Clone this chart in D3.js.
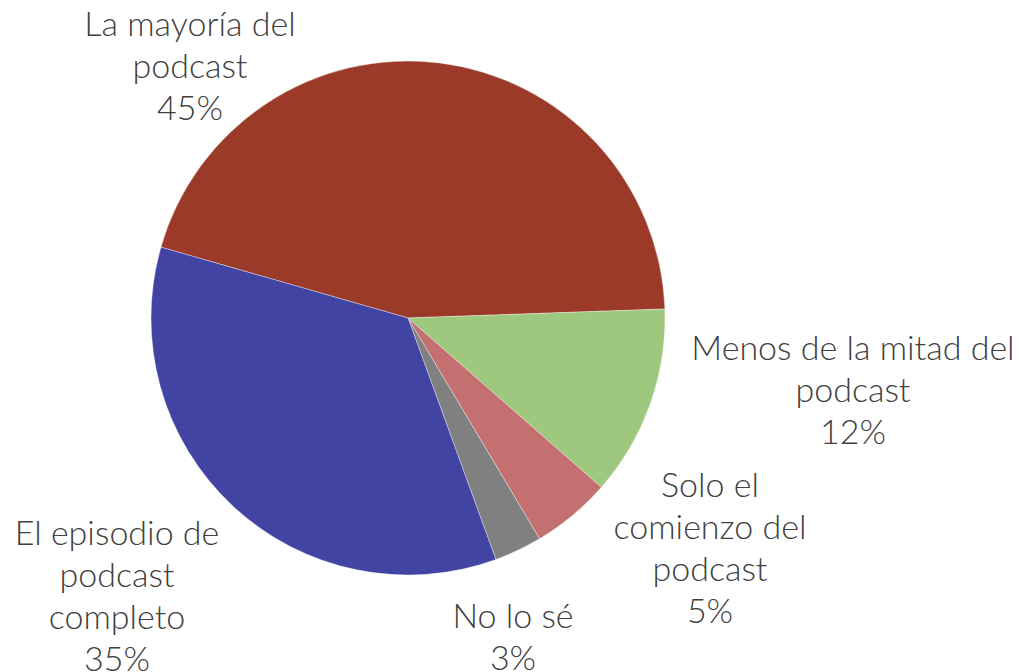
<!DOCTYPE html>
<html>
<head>
<meta charset="utf-8">
<script src="https://cdn.jsdelivr.net/npm/d3@7"></script>
<style>
  html, body { margin: 0; padding: 0; background: #fff; }
  svg { display: block; }
</style>
</head>
<body>
<svg id="chart" width="1019" height="672"></svg>
<script>
// Slices in drawing order (clockwise)
const categories = ["La mayoría del podcast", "Menos de la mitad del podcast", "Solo el comienzo del podcast", "No lo sé", "El episodio de podcast completo"];
const values = [45, 12, 5, 3, 35];
const colors = ["#9B3A29", "#9DC87E", "#C47070", "#808080", "#4244A4"];
// Label text broken into lines
const labelLines = [
  ["La mayoría del", "podcast"],
  ["Menos de la mitad del", "podcast"],
  ["Solo el", "comienzo del", "podcast"],
  ["No lo sé"],
  ["El episodio de", "podcast", "completo"]
];

const svg = d3.select("#chart");
const cx = 408, cy = 318, radius = 257;
const startDeg = -74;

const pie = d3.pie()
  .value(d => d)
  .sort(null)
  .startAngle(startDeg * Math.PI / 180)
  .endAngle((startDeg + 360) * Math.PI / 180);

const arc = d3.arc().innerRadius(0).outerRadius(radius);

const g = svg.append("g").attr("transform", `translate(${cx},${cy})`);
const arcs = pie(values);

g.selectAll("path")
  .data(arcs)
  .join("path")
  .attr("d", arc)
  .attr("fill", (d, i) => colors[i])
  .attr("stroke", "rgba(255,255,255,0.45)")
  .attr("stroke-width", 0.8);

// Label anchor positions (centre x, first baseline y)
const labelPos = [
  [190, 36],
  [853, 360],
  [710, 497],
  [513, 628],
  [117, 545]
];
const lineH = 42;

const labels = svg.append("g")
  .attr("font-family", "Lato, 'Noto Sans', sans-serif")
  .attr("font-weight", 300)
  .attr("font-size", 34)
  .attr("fill", "#404040")
  .attr("text-anchor", "middle");

arcs.forEach((a, i) => {
  const lines = labelLines[i].concat([Math.round(values[i]) + "%"]);
  const t = labels.append("text");
  lines.forEach((ln, j) => {
    t.append("tspan")
      .attr("x", labelPos[i][0])
      .attr("y", labelPos[i][1] + j * lineH)
      .text(ln);
  });
});
</script>
</body>
</html>
